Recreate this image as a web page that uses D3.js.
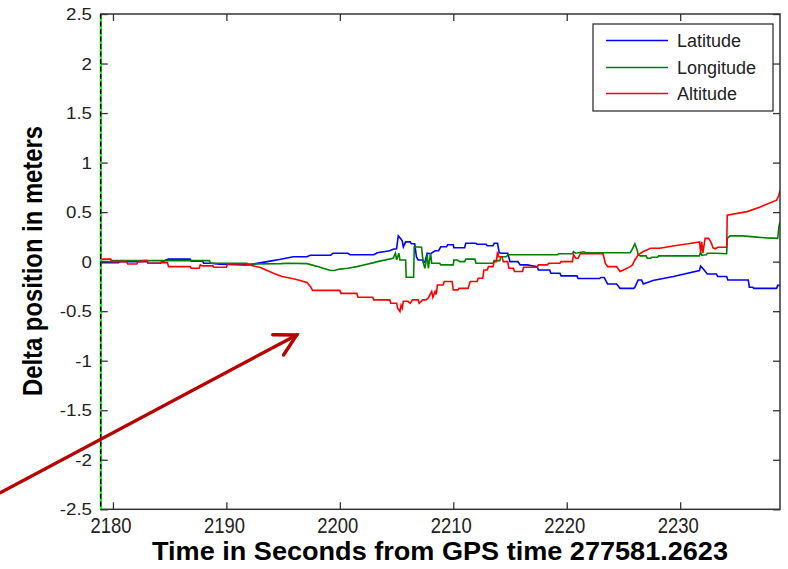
<!DOCTYPE html>
<html>
<head>
<meta charset="utf-8">
<script src="https://cdn.jsdelivr.net/npm/d3@7/dist/d3.min.js"></script>
<style>
  html, body { margin: 0; padding: 0; background: #fff; }
  svg { display: block; font-family: "Liberation Sans", Arial, sans-serif; }
</style>
</head>
<body>
<svg id="chart" width="788" height="569"></svg>
<script>
// Time (s) and position deltas (m) for each GPS component
const latitude = [[2178.9,-0.01],[2180.5,-0.01],[2180.6,0.0],[2183.0,0.0],[2183.1,-0.016],[2184.2,-0.016],[2184.3,0.0],[2184.9,0.025],[2186.8,0.025],[2186.9,0.005],[2187.9,0.005],[2188.0,-0.016],[2188.6,-0.016],[2189.4,-0.025],[2191.5,-0.033],[2192.1,-0.033],[2192.4,-0.023],[2193.6,0.0],[2194.8,0.025],[2195.9,0.05],[2196.5,0.05],[2197.1,0.05],[2197.4,0.065],[2199.2,0.065],[2199.4,0.085],[2200.7,0.085],[2200.9,0.07],[2203.0,0.07],[2203.3,0.09],[2204.4,0.11],[2204.7,0.125],[2205.0,0.13],[2205.15,0.26],[2205.3,0.24],[2205.5,0.21],[2205.6,0.15],[2205.8,0.2],[2206.2,0.2],[2206.3,0.18],[2206.6,0.18],[2206.75,0.05],[2206.9,0.017],[2207.3,0.017],[2207.4,-0.01],[2207.5,0.0],[2207.7,0.085],[2208.0,0.08],[2208.4,0.11],[2208.7,0.11],[2208.9,0.15],[2209.4,0.15],[2209.5,0.17],[2210.0,0.17],[2210.05,0.14],[2210.6,0.14],[2211.0,0.14],[2211.1,0.185],[2212.0,0.185],[2212.1,0.175],[2212.9,0.175],[2213.0,0.16],[2213.5,0.16],[2213.6,0.185],[2213.9,0.185],[2214.05,0.09],[2214.3,0.085],[2214.8,0.085],[2215.0,0.0],[2215.7,0.0],[2215.9,-0.033],[2216.5,-0.033],[2217.4,-0.05],[2217.5,-0.084],[2218.5,-0.084],[2218.6,-0.117],[2219.4,-0.117],[2219.5,-0.144],[2220.9,-0.144],[2221.0,-0.17],[2222.9,-0.17],[2223.0,-0.16],[2223.3,-0.16],[2223.6,-0.225],[2224.4,-0.225],[2224.7,-0.27],[2225.9,-0.27],[2226.0,-0.26],[2226.3,-0.185],[2226.6,-0.185],[2226.75,-0.225],[2227.6,-0.19],[2229.4,-0.15],[2231.7,-0.09],[2231.8,-0.045],[2232.0,-0.07],[2232.4,-0.124],[2233.2,-0.124],[2233.3,-0.15],[2234.1,-0.15],[2234.2,-0.185],[2236.0,-0.185],[2236.1,-0.258],[2236.4,-0.258],[2236.5,-0.27],[2238.5,-0.27],[2238.6,-0.24],[2238.8,-0.24]];

const longitude = [[2178.9,0.0],[2179.8,0.0],[2179.9,0.01],[2188.5,0.01],[2188.6,-0.016],[2191.8,-0.016],[2191.9,-0.023],[2194.8,-0.02],[2195.5,-0.016],[2197.1,-0.02],[2197.9,-0.045],[2198.6,-0.07],[2199.2,-0.09],[2199.5,-0.09],[2200.0,-0.075],[2200.7,-0.067],[2201.5,-0.05],[2202.1,-0.033],[2203.0,-0.01],[2203.3,0.0],[2204.7,0.035],[2204.9,0.085],[2205.0,0.017],[2205.2,0.085],[2205.3,0.017],[2205.8,0.017],[2205.85,-0.157],[2206.5,-0.157],[2206.56,0.15],[2207.2,0.145],[2207.35,-0.01],[2207.5,-0.067],[2207.7,0.07],[2207.8,-0.067],[2208.0,0.085],[2208.1,-0.016],[2208.8,-0.016],[2208.9,-0.033],[2210.0,-0.033],[2210.05,0.017],[2210.35,0.017],[2210.6,0.0],[2211.0,0.0],[2211.1,0.025],[2211.9,0.025],[2212.0,-0.016],[2213.5,-0.016],[2213.6,0.01],[2214.1,0.01],[2214.2,0.05],[2214.7,0.05],[2214.8,0.07],[2219.2,0.07],[2219.3,0.08],[2220.5,0.08],[2220.6,0.1],[2220.8,0.085],[2221.5,0.1],[2221.7,0.09],[2225.6,0.09],[2225.8,0.13],[2226.0,0.18],[2226.2,0.12],[2226.3,0.07],[2226.5,0.058],[2227.0,0.058],[2227.1,0.035],[2227.4,0.035],[2227.5,0.045],[2228.0,0.045],[2228.1,0.058],[2231.7,0.058],[2231.8,0.1],[2231.9,0.065],[2232.3,0.07],[2232.4,0.085],[2233.2,0.085],[2234.1,0.08],[2234.15,0.235],[2234.4,0.26],[2235.5,0.26],[2236.5,0.25],[2237.6,0.24],[2238.6,0.235],[2238.7,0.35],[2238.8,0.40]];

const altitude = [[2178.9,0.01],[2179.1,0.025],[2179.8,0.025],[2179.9,0.0],[2181.2,0.0],[2181.3,-0.023],[2182.1,-0.023],[2182.2,0.0],[2182.6,0.0],[2182.7,0.01],[2183.0,0.01],[2183.1,-0.016],[2184.1,-0.016],[2184.2,-0.01],[2184.8,-0.01],[2184.9,-0.05],[2186.8,-0.05],[2186.9,-0.067],[2187.6,-0.067],[2187.7,-0.033],[2187.9,-0.043],[2188.8,-0.043],[2188.9,-0.057],[2190.0,-0.057],[2190.1,-0.023],[2191.8,-0.023],[2192.3,-0.04],[2193.0,-0.06],[2193.6,-0.09],[2194.2,-0.12],[2194.9,-0.15],[2195.8,-0.17],[2196.5,-0.19],[2197.1,-0.21],[2197.4,-0.25],[2197.6,-0.29],[2200.0,-0.29],[2200.1,-0.32],[2201.5,-0.32],[2201.6,-0.36],[2202.9,-0.36],[2203.0,-0.386],[2204.4,-0.386],[2204.5,-0.42],[2205.0,-0.42],[2205.1,-0.47],[2205.3,-0.505],[2205.4,-0.44],[2205.5,-0.47],[2205.6,-0.40],[2206.0,-0.40],[2206.2,-0.42],[2206.4,-0.386],[2206.9,-0.386],[2207.0,-0.42],[2207.3,-0.386],[2207.6,-0.386],[2207.8,-0.366],[2208.1,-0.30],[2208.2,-0.36],[2208.4,-0.30],[2208.5,-0.33],[2208.6,-0.235],[2209.1,-0.235],[2209.2,-0.20],[2209.9,-0.20],[2210.0,-0.285],[2210.4,-0.285],[2210.5,-0.27],[2211.3,-0.27],[2211.5,-0.2],[2212.1,-0.2],[2212.2,-0.167],[2212.6,-0.167],[2212.7,-0.084],[2213.0,-0.084],[2213.1,-0.05],[2213.5,-0.05],[2213.6,0.0],[2213.8,0.0],[2213.9,0.10],[2214.0,0.05],[2214.3,0.05],[2214.4,0.0],[2214.8,0.0],[2214.9,-0.067],[2215.3,-0.067],[2215.4,-0.10],[2216.1,-0.10],[2216.2,-0.057],[2217.4,-0.057],[2217.5,-0.033],[2218.3,-0.033],[2218.4,-0.016],[2219.4,-0.016],[2219.5,0.0],[2220.5,0.0],[2220.6,0.07],[2220.8,0.035],[2221.0,0.035],[2221.2,0.08],[2223.2,0.08],[2223.4,-0.016],[2223.6,-0.05],[2224.4,-0.05],[2224.7,-0.10],[2225.0,-0.085],[2225.6,-0.05],[2225.8,-0.033],[2226.0,0.017],[2226.3,0.07],[2226.7,0.1],[2227.4,0.135],[2228.2,0.135],[2229.5,0.16],[2230.7,0.18],[2231.7,0.2],[2231.8,0.10],[2231.9,0.2],[2232.0,0.085],[2232.2,0.235],[2232.5,0.235],[2232.7,0.2],[2232.9,0.14],[2233.1,0.13],[2233.3,0.145],[2234.1,0.145],[2234.15,0.47],[2235.9,0.505],[2237.0,0.55],[2238.5,0.62],[2238.7,0.67],[2238.8,0.72]];

const seriesNames = ["Latitude", "Longitude", "Altitude"];
const seriesColors = ["#0000ff", "#008000", "#ff0000"];
const timeTicks = [2180, 2190, 2200, 2210, 2220, 2230];
const deltaTicks = [-2.5, -2, -1.5, -1, -0.5, 0, 0.5, 1, 1.5, 2, 2.5];
const timeDomain = [2178.92, 2238.8];
const deltaDomain = [-2.5, 2.5];
const markerTime = 2178.92;               // start-of-record marker line
const arrowFrom = [2170.1, -2.33];        // annotation arrow, data units
const arrowTo = [2196.2, -0.74];
const xTitle = "Time in Seconds from GPS time 277581.2623";
const yTitle = "Delta position in meters";

const svg = d3.select("#chart");
const plot = { left: 100.7, right: 780, top: 14, bottom: 509.3 };

const x = d3.scaleLinear().domain(timeDomain).range([plot.left, plot.right]);
const y = d3.scaleLinear().domain(deltaDomain).range([plot.bottom, plot.top]);

svg.append("rect").attr("width", 788).attr("height", 569).attr("fill", "#fff");

svg.append("defs").append("clipPath").attr("id", "plotClip")
  .append("rect")
  .attr("x", plot.left).attr("y", plot.top)
  .attr("width", plot.right - plot.left).attr("height", plot.bottom - plot.top);

// Data lines
const line = d3.line().x(d => x(d[0])).y(d => y(d[1]));
const lines = svg.append("g").attr("clip-path", "url(#plotClip)");
[latitude, longitude, altitude].forEach((s, i) => {
  lines.append("path")
    .datum(s)
    .attr("d", line)
    .attr("fill", "none")
    .attr("stroke", seriesColors[i])
    .attr("stroke-width", 1.6)
    .attr("stroke-linejoin", "miter");
});

// Axes box with inward ticks on all four sides
const axisColor = "#333";
const tickLen = 7;
const axes = svg.append("g");
axes.append("rect")
  .attr("x", plot.left).attr("y", plot.top)
  .attr("width", plot.right - plot.left).attr("height", plot.bottom - plot.top)
  .attr("fill", "none").attr("stroke", axisColor).attr("stroke-width", 1.5);

const bottomAxis = d3.axisBottom(x).tickValues(timeTicks).tickSize(-tickLen).tickFormat("");
const topAxis = d3.axisTop(x).tickValues(timeTicks).tickSize(-tickLen).tickFormat("");
const leftAxis = d3.axisLeft(y).tickValues(deltaTicks).tickSize(-tickLen).tickFormat("");
const rightAxis = d3.axisRight(y).tickValues(deltaTicks).tickSize(-tickLen).tickFormat("");

function styleAxis(g) {
  g.select(".domain").remove();
  g.selectAll(".tick line").attr("stroke", axisColor).attr("stroke-width", 1.3);
}
axes.append("g").attr("transform", `translate(0,${plot.bottom})`).call(bottomAxis).call(styleAxis);
axes.append("g").attr("transform", `translate(0,${plot.top})`).call(topAxis).call(styleAxis);
axes.append("g").attr("transform", `translate(${plot.left},0)`).call(leftAxis).call(styleAxis);
axes.append("g").attr("transform", `translate(${plot.right},0)`).call(rightAxis).call(styleAxis);

// Tick labels
axes.append("g").selectAll("text")
  .data(timeTicks)
  .join("text")
  .attr("x", d => x(d) - 2)
  .attr("y", 533)
  .attr("text-anchor", "middle")
  .attr("font-size", 22)
  .attr("textLength", 41)
  .attr("lengthAdjust", "spacingAndGlyphs")
  .attr("fill", "#222")
  .text(d => d);

axes.append("g").selectAll("text")
  .data(deltaTicks)
  .join("text")
  .attr("transform", d => `translate(92,${y(d) + 6}) scale(1.1,1)`)
  .attr("text-anchor", "end")
  .attr("font-size", 17)
  .attr("fill", "#222")
  .text(d => String(d));

// Axis titles
svg.append("text")
  .attr("x", 440).attr("y", 560)
  .attr("text-anchor", "middle")
  .attr("font-size", 26).attr("font-weight", "bold")
  .attr("textLength", 576).attr("lengthAdjust", "spacingAndGlyphs")
  .attr("fill", "#000")
  .text(xTitle);

svg.append("text")
  .attr("transform", "translate(42,261) rotate(-90)")
  .attr("text-anchor", "middle")
  .attr("font-size", 27).attr("font-weight", "bold")
  .attr("textLength", 270).attr("lengthAdjust", "spacingAndGlyphs")
  .attr("fill", "#000")
  .text(yTitle);

// Start marker: green line overlaid with black dashes
const mx = x(markerTime);
svg.append("line")
  .attr("x1", mx).attr("x2", mx).attr("y1", plot.top).attr("y2", plot.bottom)
  .attr("stroke", "#00ff00").attr("stroke-width", 1.8);
svg.append("line")
  .attr("x1", mx).attr("x2", mx).attr("y1", plot.top).attr("y2", plot.bottom)
  .attr("stroke", "#000").attr("stroke-width", 1.4)
  .attr("stroke-dasharray", "5,2.5");

// Legend
const legend = svg.append("g");
legend.append("rect")
  .attr("x", 593).attr("y", 24).attr("width", 180).attr("height", 87)
  .attr("fill", "#fff").attr("stroke", axisColor).attr("stroke-width", 1.3);
const legendRows = [40.5, 67.5, 93.5];
seriesNames.forEach((name, i) => {
  legend.append("line")
    .attr("x1", 606).attr("x2", 668)
    .attr("y1", legendRows[i]).attr("y2", legendRows[i])
    .attr("stroke", seriesColors[i]).attr("stroke-width", 1.4);
  legend.append("text")
    .attr("x", 677).attr("y", legendRows[i] + 6.5)
    .attr("font-size", 18)
    .attr("fill", "#222")
    .text(name);
});

// Annotation arrow
const arrowColor = "#b80000";
const ax0 = x(arrowFrom[0]), ay0 = y(arrowFrom[1]);
const ax1 = x(arrowTo[0]), ay1 = y(arrowTo[1]);
const ang = Math.atan2(ay1 - ay0, ax1 - ax0);
const head = 24, spread = 0.5;
const arrow = svg.append("g")
  .attr("stroke", arrowColor).attr("stroke-width", 3.4)
  .attr("stroke-linecap", "round").attr("fill", "none");
arrow.append("line").attr("x1", ax0).attr("y1", ay0).attr("x2", ax1).attr("y2", ay1);
arrow.append("path").attr("d", d3.line()([
  [ax1 - head * Math.cos(ang - spread), ay1 - head * Math.sin(ang - spread)],
  [ax1, ay1],
  [ax1 - head * Math.cos(ang + spread), ay1 - head * Math.sin(ang + spread)]
])).attr("stroke-linejoin", "miter");
</script>
</body>
</html>
